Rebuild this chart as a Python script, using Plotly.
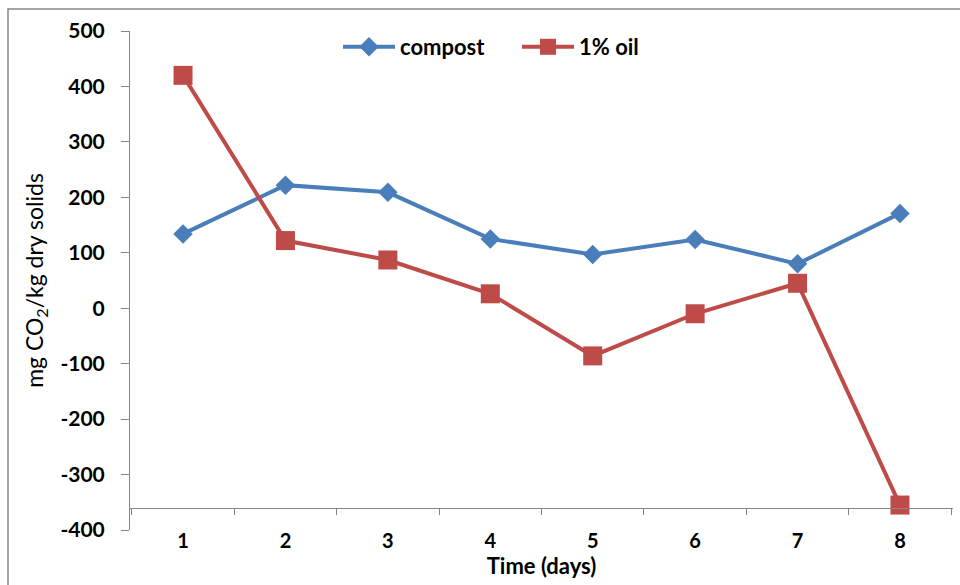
import plotly.graph_objects as go

days = ["1", "2", "3", "4", "5", "6", "7", "8"]
compost = [134, 222, 209, 125, 97, 124, 80, 171]
oil = [420, 122, 87, 26, -86, -10, 45, -355]
y_ticks = [-400, -300, -200, -100, 0, 100, 200, 300, 400, 500]

W, H = 960, 585
ML, MR, MT, MB = 130, 7, 31, 55
PW, PH = W - ML - MR, H - MT - MB
y_min, y_max = -400, 500
x_cross = -360  # value where the horizontal axis crosses

BLUE = "#4A7EBB"
RED = "#BE4B48"
AXC = "#868686"
FONT = "Lato"

fig = go.Figure()
fig.add_trace(go.Scatter(
    x=days, y=compost, name="compost", mode="lines+markers",
    line=dict(color=BLUE, width=4),
    marker=dict(symbol="diamond", size=15, color=BLUE),
))
fig.add_trace(go.Scatter(
    x=days, y=oil, name="1% oil", mode="lines+markers",
    line=dict(color=RED, width=4),
    marker=dict(symbol="square", size=19, color=RED),
))

pos = (x_cross - y_min) / (y_max - y_min)

# outer chart border (left/top visible)
bx0 = (8 - ML) / PW
by1 = (H - MB - 9) / PH
fig.add_shape(type="rect", xref="paper", yref="paper",
              x0=bx0, x1=1.2, y0=-0.3, y1=by1,
              line=dict(color=AXC, width=1.5), fillcolor="rgba(0,0,0,0)", layer="below")

leg_y = (H - MB - 47) / PH
leg_x = (338 - ML) / PW

fig.update_layout(
    width=W, height=H,
    margin=dict(l=ML, r=MR, t=MT, b=MB, autoexpand=False),
    paper_bgcolor="white", plot_bgcolor="white",
    font=dict(family=FONT, color="black"),
    showlegend=True,
    legend=dict(orientation="h", x=leg_x, y=leg_y, xanchor="left", yanchor="middle",
                font=dict(family=FONT, size=22, color="black", weight="bold"),
                itemwidth=52,
                bgcolor="rgba(0,0,0,0)", entrywidth=112, entrywidthmode="pixels"),
    xaxis=dict(
        type="category", anchor="free", position=pos, automargin=False,
        showline=True, linecolor=AXC, linewidth=1,
        ticks="outside", tickson="boundaries", ticklen=6, tickcolor=AXC,
        showgrid=False, zeroline=False,
        tickfont=dict(family=FONT, size=20, color="black", weight="bold"),
        ticklabelstandoff=15,
        title=dict(text="Time (days)", font=dict(family=FONT, size=22, color="black", weight="bold"),
                   standoff=6),
    ),
    yaxis=dict(
        range=[y_min, y_max], tickvals=y_ticks, ticktext=[str(v) for v in y_ticks],
        automargin=False,
        showline=True, linecolor=AXC, linewidth=1,
        ticks="outside", ticklen=8, tickcolor=AXC,
        showgrid=False, zeroline=False,
        tickfont=dict(family=FONT, size=21, color="black", weight="bold"),
        ticklabelstandoff=12,
        title=dict(text="mg CO<sub>2</sub>/kg dry solids",
                   font=dict(family=FONT, size=23, color="black"), standoff=10),
    ),
)

fig.write_html("out.html", config={"displayModeBar": False},
               post_script="document.body.style.margin='0';")
